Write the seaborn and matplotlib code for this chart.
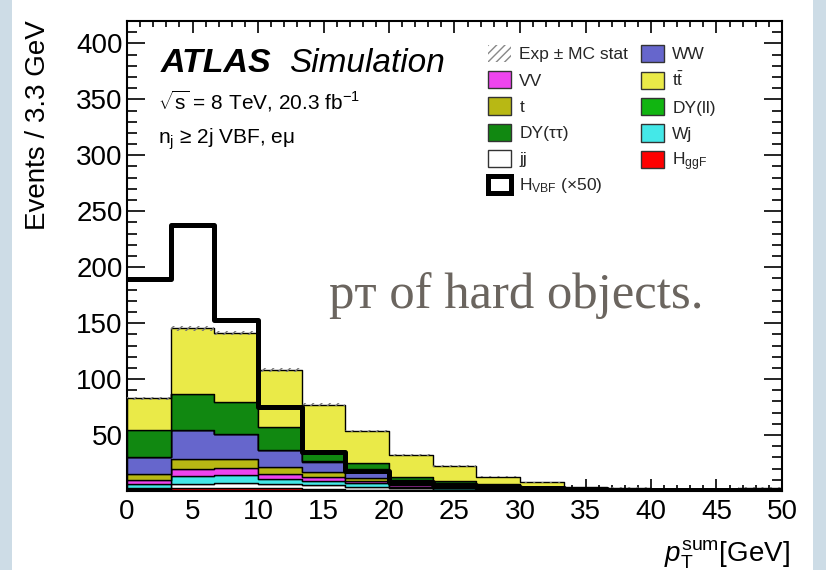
import numpy as np
import pandas as pd
import matplotlib
matplotlib.use("Agg")
import matplotlib.pyplot as plt
from matplotlib.patches import Patch, Rectangle
from matplotlib.ticker import MultipleLocator
import seaborn as sns

# ---- data -------------------------------------------------------------
bin_edges = [0, 10 / 3, 20 / 3, 10, 40 / 3, 50 / 3, 20, 70 / 3, 80 / 3, 30,
             100 / 3, 110 / 3, 40, 130 / 3, 140 / 3, 50]

# stacked backgrounds, events per bin (bottom of the stack first)
h_ggf = [1.8, 3.0, 2.3, 2.4, 2.0, 1.3, 0.8, 0.5, 0.3, 0.2, 0.1, 0.1, 0.05, 0.05, 0.1]
jj    = [1.2, 3.6, 5.1, 3.6, 3.4, 2.5, 1.5, 0.8, 0.5, 0.3, 0.1, 0.1, 0.05, 0.05, 0.1]
wj    = [3.0, 6.5, 6.6, 4.7, 3.5, 3.6, 1.5, 1.0, 0.5, 0.3, 0.2, 0.1, 0.1, 0.05, 0.2]
vv    = [3.5, 6.2, 6.5, 4.5, 3.5, 1.8, 1.2, 0.8, 0.5, 0.3, 0.2, 0.2, 0.1, 0.05, 0.2]
top   = [5.4, 9.2, 8.1, 6.0, 4.3, 2.1, 1.5, 1.2, 0.8, 0.5, 0.3, 0.2, 0.1, 0.1, 0.2]
ww    = [15.1, 25.6, 22.0, 15.4, 9.5, 8.1, 3.3, 3.1, 1.8, 1.0, 0.5, 0.4, 0.3, 0.2, 0.5]
dy_ll = [0.3, 0.5, 0.4, 0.3, 0.2, 0.2, 0.1, 0.1, 0.1, 0.05, 0.05, 0.05, 0.0, 0.0, 0.05]
dy_tt = [24.2, 32.2, 28.2, 20.2, 7.3, 5.1, 2.9, 1.7, 1.4, 0.75, 0.35, 0.25, 0.2, 0.1, 0.25]
ttbar = [28.3, 58.5, 61.8, 51.2, 43.3, 28.9, 19.3, 13.3, 6.9, 4.4, 1.5, 1.6, 0.6, 0.2, 1.4]

# MC statistical uncertainty on the total expectation
mc_stat = [1.5, 2.0, 2.0, 1.6, 1.3, 1.0, 0.8, 0.7, 0.5, 0.4, 0.3, 0.3, 0.2, 0.2, 0.3]

# VBF signal scaled by 50
h_vbf_x50 = [189.6, 238.0, 152.7, 74.7, 35.0, 17.9, 7.8, 5.3, 3.5, 2.5, 1.5, 1.2, 0.8, 0.6, 0.5]

process_names = ["H_ggF", "jj", "Wj", "VV", "t", "WW", "DY(ll)", "DY(tautau)", "ttbar"]
process_values = [h_ggf, jj, wj, vv, top, ww, dy_ll, dy_tt, ttbar]
process_colors = {
    "H_ggF": "#ff0000",
    "jj": "#ffffff",
    "Wj": "#44e8e8",
    "VV": "#ee44ee",
    "t": "#b8b814",
    "WW": "#6666cc",
    "DY(ll)": "#11b511",
    "DY(tautau)": "#118811",
    "ttbar": "#eaea48",
}

# ---- style ------------------------------------------------------------
sns.set_theme(style="ticks")
plt.rcParams["font.family"] = ["Liberation Sans", "DejaVu Sans"]
plt.rcParams["mathtext.fontset"] = "custom"
plt.rcParams["mathtext.rm"] = "Liberation Sans"
plt.rcParams["mathtext.it"] = "Liberation Sans:italic"
plt.rcParams["mathtext.bf"] = "Liberation Sans:bold"
plt.rcParams["hatch.linewidth"] = 1.0

W, H = 826, 570
fig = plt.figure(figsize=(W / 100, H / 100), dpi=100)
fig.patch.set_facecolor("#cddce6")
fig.patches.append(Rectangle((12 / W, 0), (813 - 12) / W, 1, transform=fig.transFigure,
                             facecolor="white", edgecolor="none", zorder=-10))

ax = fig.add_axes([127 / W, 1 - 491 / H, 655 / W, 470 / H])
ax.set_facecolor("white")

edges = np.array(bin_edges)
centers = 0.5 * (edges[:-1] + edges[1:])

df = pd.DataFrame({
    "x": np.tile(centers, len(process_names)),
    "w": np.concatenate(process_values),
    "process": np.repeat(process_names, len(centers)),
})

# seaborn stacks the first hue level on top
sns.histplot(data=df, x="x", weights="w", hue="process",
             hue_order=process_names[::-1], palette=process_colors,
             bins=list(bin_edges), multiple="stack", element="step", fill=True,
             alpha=1.0, edgecolor="black", linewidth=1.0, legend=False, ax=ax)

# hatched MC stat band on the total
total = np.sum(np.array(process_values), axis=0)
err = np.array(mc_stat)
lo = np.append(total - err, (total - err)[-1])
hi = np.append(total + err, (total + err)[-1])
ax.fill_between(edges, lo, hi, step="post", facecolor="none", edgecolor="#777777",
                hatch="////", linewidth=0, zorder=5)

# VBF signal outline
sig = pd.DataFrame({"x": centers, "w": h_vbf_x50})
sns.histplot(data=sig, x="x", weights="w", bins=list(bin_edges), element="step",
             fill=False, color="black", linewidth=3.6, ax=ax, zorder=6)

# ---- axes -------------------------------------------------------------
ax.set_xlim(0, 50)
ax.set_ylim(0, 420)
ax.set_xlabel("")
ax.set_ylabel("")
ax.set_yticks([50, 100, 150, 200, 250, 300, 350, 400])
ax.xaxis.set_major_locator(MultipleLocator(5))
ax.xaxis.set_minor_locator(MultipleLocator(1))
ax.yaxis.set_minor_locator(MultipleLocator(10))
ax.tick_params(axis="both", which="both", direction="in", top=True, right=True,
               labelsize=20, width=1.2, color="black", labelcolor="black")
ax.tick_params(axis="y", which="major", length=13, pad=3)
ax.tick_params(axis="y", which="minor", length=7)
ax.tick_params(axis="x", which="major", length=8.5, pad=6)
ax.tick_params(axis="x", which="minor", length=4)
for sp in ax.spines.values():
    sp.set_visible(True)
    sp.set_color("black")
    sp.set_linewidth(1.5)

fig.text(38 / W, 1 - 20 / H, "Events / 3.3 GeV", rotation=90, ha="center", va="top",
         fontsize=20, color="black")
fig.text(790 / W, 1 - 555 / H, r"$p_{\mathrm{T}}^{\mathrm{sum}}$[GeV]", ha="right",
         va="center", fontsize=20, color="black")

# ---- labels inside the frame -------------------------------------------
fig.text(161 / W, 1 - 63 / H, "ATLAS", fontsize=24.5, fontweight="bold", fontstyle="italic",
         ha="left", va="center", color="black")
fig.text(289 / W, 1 - 63 / H, "Simulation", fontsize=24, fontstyle="italic",
         ha="left", va="center", color="black")
fig.text(158 / W, 1 - 101 / H, r"$\sqrt{\mathrm{s}}$ = 8 TeV, 20.3 fb$^{-1}$", fontsize=15,
         ha="left", va="center", color="black")
fig.text(158 / W, 1 - 139 / H, r"n$_{\mathrm{j}}$ ≥ 2j VBF, eμ", fontsize=15,
         ha="left", va="center", color="black")

# ---- legend -------------------------------------------------------------
def box(name):
    return Patch(facecolor=process_colors[name], edgecolor="#333333", linewidth=1.0)

handles = [
    Patch(facecolor="white", edgecolor="#888888", hatch="////", linewidth=0),
    box("VV"), box("t"), box("DY(tautau)"), box("jj"),
    Patch(facecolor="white", edgecolor="black", linewidth=3.6),
    box("WW"), box("ttbar"), box("DY(ll)"), box("Wj"), box("H_ggF"),
]
labels = [
    "Exp ± MC stat", "VV", "t", "DY(ττ)", "jj", r"H$_{\mathrm{VBF}}$ (×50)",
    "WW", r"t$\bar{\mathrm{t}}$", "DY(ll)", "Wj", r"H$_{\mathrm{ggF}}$",
]
leg = fig.legend(handles, labels, ncol=2, loc="upper left",
                 bbox_to_anchor=(488 / W, 1 - 45 / H), frameon=False, fontsize=12.5,
                 borderpad=0, borderaxespad=0, labelspacing=0.5, handlelength=1.3,
                 handleheight=1.15, handletextpad=0.5, columnspacing=0.75)

# ---- slide caption -------------------------------------------------------
fig.text(329 / W, 1 - 308 / H, "pᴛ of hard objects.", fontsize=36.5,
         family=["Liberation Serif", "DejaVu Serif"], color="#6b655f",
         ha="left", va="baseline")

fig.savefig("out.png", dpi=100, facecolor=fig.get_facecolor())
